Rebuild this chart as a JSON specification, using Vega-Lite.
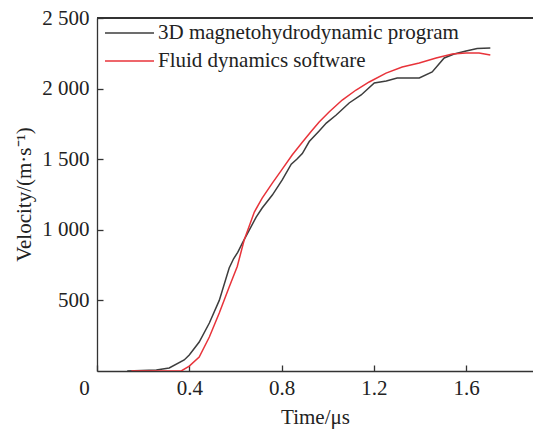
{
  "$schema": "https://vega.github.io/schema/vega-lite/v6.json",
  "width": 436,
  "height": 353,
  "autosize": {"type": "none"},
  "padding": {"left": 97, "top": 18, "right": 0, "bottom": 58},
  "background": "white",
  "config": {
    "view": {"stroke": null},
    "font": "Liberation Serif"
  },
  "data": {
    "values": [
      {"series": "3D magnetohydrodynamic program", "t": 0.131, "v": 0},
      {"series": "3D magnetohydrodynamic program", "t": 0.257, "v": 7},
      {"series": "3D magnetohydrodynamic program", "t": 0.313, "v": 21},
      {"series": "3D magnetohydrodynamic program", "t": 0.378, "v": 78},
      {"series": "3D magnetohydrodynamic program", "t": 0.400, "v": 113},
      {"series": "3D magnetohydrodynamic program", "t": 0.443, "v": 205},
      {"series": "3D magnetohydrodynamic program", "t": 0.487, "v": 340},
      {"series": "3D magnetohydrodynamic program", "t": 0.530, "v": 500},
      {"series": "3D magnetohydrodynamic program", "t": 0.573, "v": 730},
      {"series": "3D magnetohydrodynamic program", "t": 0.592, "v": 795},
      {"series": "3D magnetohydrodynamic program", "t": 0.610, "v": 840},
      {"series": "3D magnetohydrodynamic program", "t": 0.630, "v": 906},
      {"series": "3D magnetohydrodynamic program", "t": 0.660, "v": 998},
      {"series": "3D magnetohydrodynamic program", "t": 0.690, "v": 1090},
      {"series": "3D magnetohydrodynamic program", "t": 0.716, "v": 1154},
      {"series": "3D magnetohydrodynamic program", "t": 0.760, "v": 1246},
      {"series": "3D magnetohydrodynamic program", "t": 0.803, "v": 1353},
      {"series": "3D magnetohydrodynamic program", "t": 0.842, "v": 1465},
      {"series": "3D magnetohydrodynamic program", "t": 0.866, "v": 1500},
      {"series": "3D magnetohydrodynamic program", "t": 0.890, "v": 1540},
      {"series": "3D magnetohydrodynamic program", "t": 0.920, "v": 1625},
      {"series": "3D magnetohydrodynamic program", "t": 0.963, "v": 1700},
      {"series": "3D magnetohydrodynamic program", "t": 0.994, "v": 1756},
      {"series": "3D magnetohydrodynamic program", "t": 1.037, "v": 1813},
      {"series": "3D magnetohydrodynamic program", "t": 1.093, "v": 1898},
      {"series": "3D magnetohydrodynamic program", "t": 1.145, "v": 1955},
      {"series": "3D magnetohydrodynamic program", "t": 1.202, "v": 2040},
      {"series": "3D magnetohydrodynamic program", "t": 1.254, "v": 2054},
      {"series": "3D magnetohydrodynamic program", "t": 1.301, "v": 2075},
      {"series": "3D magnetohydrodynamic program", "t": 1.397, "v": 2075},
      {"series": "3D magnetohydrodynamic program", "t": 1.453, "v": 2118},
      {"series": "3D magnetohydrodynamic program", "t": 1.505, "v": 2217},
      {"series": "3D magnetohydrodynamic program", "t": 1.548, "v": 2245},
      {"series": "3D magnetohydrodynamic program", "t": 1.600, "v": 2266},
      {"series": "3D magnetohydrodynamic program", "t": 1.648, "v": 2284},
      {"series": "3D magnetohydrodynamic program", "t": 1.705, "v": 2288},
      {"series": "Fluid dynamics software", "t": 0.149, "v": 0},
      {"series": "Fluid dynamics software", "t": 0.365, "v": 0},
      {"series": "Fluid dynamics software", "t": 0.400, "v": 35},
      {"series": "Fluid dynamics software", "t": 0.443, "v": 99},
      {"series": "Fluid dynamics software", "t": 0.487, "v": 241},
      {"series": "Fluid dynamics software", "t": 0.530, "v": 411},
      {"series": "Fluid dynamics software", "t": 0.573, "v": 595},
      {"series": "Fluid dynamics software", "t": 0.608, "v": 740},
      {"series": "Fluid dynamics software", "t": 0.638, "v": 928},
      {"series": "Fluid dynamics software", "t": 0.682, "v": 1126},
      {"series": "Fluid dynamics software", "t": 0.716, "v": 1225},
      {"series": "Fluid dynamics software", "t": 0.760, "v": 1331},
      {"series": "Fluid dynamics software", "t": 0.803, "v": 1430},
      {"series": "Fluid dynamics software", "t": 0.846, "v": 1530},
      {"series": "Fluid dynamics software", "t": 0.890, "v": 1620},
      {"series": "Fluid dynamics software", "t": 0.929, "v": 1698},
      {"series": "Fluid dynamics software", "t": 0.963, "v": 1763},
      {"series": "Fluid dynamics software", "t": 1.006, "v": 1834},
      {"series": "Fluid dynamics software", "t": 1.063, "v": 1919},
      {"series": "Fluid dynamics software", "t": 1.123, "v": 1990},
      {"series": "Fluid dynamics software", "t": 1.180, "v": 2047},
      {"series": "Fluid dynamics software", "t": 1.253, "v": 2110},
      {"series": "Fluid dynamics software", "t": 1.323, "v": 2153},
      {"series": "Fluid dynamics software", "t": 1.397, "v": 2181},
      {"series": "Fluid dynamics software", "t": 1.470, "v": 2217},
      {"series": "Fluid dynamics software", "t": 1.540, "v": 2245},
      {"series": "Fluid dynamics software", "t": 1.600, "v": 2252},
      {"series": "Fluid dynamics software", "t": 1.656, "v": 2252},
      {"series": "Fluid dynamics software", "t": 1.705, "v": 2238}
    ]
  },
  "layer": [
    {
      "mark": {"type": "line", "strokeWidth": 1.5, "clip": true},
      "encoding": {
        "x": {
          "field": "t", "type": "quantitative",
          "scale": {"domain": [0, 1.89], "nice": false, "zero": false},
          "axis": {
            "values": [0, 0.4, 0.8, 1.2, 1.6],
            "format": ".1f",
            "labelExpr": "datum.value === 0 ? '0' : datum.label",
            "grid": false,
            "title": "Time/μs",
            "titleFont": "Liberation Serif", "titleFontSize": 21, "titleFontWeight": "normal", "titleColor": "#222",
            "titleX": 218, "titleY": 52, "titleBaseline": "alphabetic", "titleAlign": "center",
            "labelFont": "Liberation Serif", "labelFontSize": 21, "labelColor": "#222",
            "labelPadding": 12,
            "labelOffset": {"condition": {"test": "datum.value === 0", "value": -13}, "value": 0},
            "labelFlush": false, "labelOverlap": false,
            "domainColor": "#333", "domainWidth": 1.3,
            "tickColor": "#333", "tickSize": -6, "tickWidth": 1.3
          }
        },
        "y": {
          "field": "v", "type": "quantitative",
          "scale": {"domain": [0, 2500], "nice": false},
          "axis": {
            "values": [500, 1000, 1500, 2000, 2500],
            "labelExpr": "replace(format(datum.value, ','), ',', ' ')",
            "grid": false,
            "title": "Velocity/(m·s⁻¹)",
            "titleFont": "Liberation Serif", "titleFontSize": 21, "titleFontWeight": "normal", "titleColor": "#222",
            "titleAngle": -90, "titleX": -67, "titleY": 176, "titleBaseline": "alphabetic", "titleAlign": "center",
            "labelFont": "Liberation Serif", "labelFontSize": 21, "labelColor": "#222",
            "labelPadding": 14,
            "labelFlush": false, "labelOverlap": false,
            "domainColor": "#333", "domainWidth": 1.3,
            "tickColor": "#333", "tickSize": -6, "tickWidth": 1.3
          }
        },
        "color": {
          "field": "series", "type": "nominal",
          "scale": {"domain": ["3D magnetohydrodynamic program", "Fluid dynamics software"], "range": ["#3d3d3d", "#e8333a"]},
          "legend": {
            "orient": "none", "legendX": 39, "legendY": 4.5,
            "title": null,
            "symbolType": "M-5.533,0H1", "symbolSize": 225, "symbolStrokeWidth": 1.5,
            "labelFont": "Liberation Serif", "labelFontSize": 21, "labelColor": "#222",
            "labelOffset": 1, "rowPadding": 6, "padding": 0,
            "labelLimit": 400
          }
        }
      }
    },
    {
      "mark": {"type": "rule", "color": "#333", "strokeWidth": 1.3},
      "encoding": {
        "y": {"datum": 2500, "type": "quantitative"}
      }
    }
  ]
}
